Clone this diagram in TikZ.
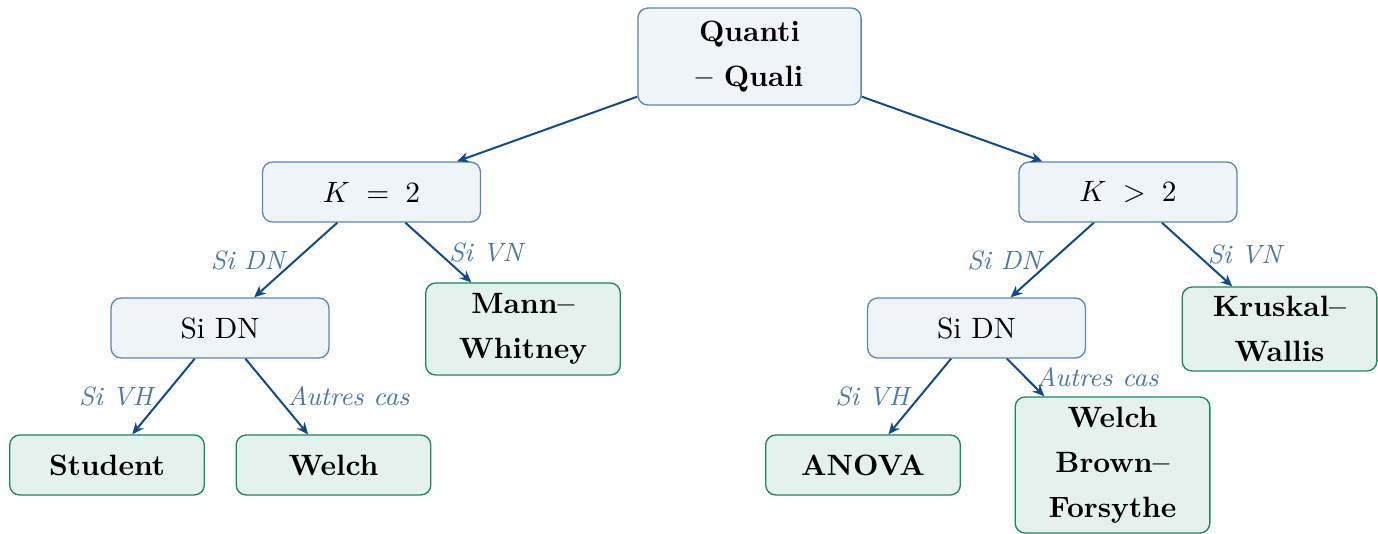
\documentclass[tikz,border=0pt]{standalone}
\usetikzlibrary{arrows.meta}
\definecolor{arrowblue}{RGB}{18,74,134}
\definecolor{labelblue}{RGB}{74,120,166}
\definecolor{boxfill}{RGB}{239,244,248}
\definecolor{boxdraw}{RGB}{92,134,180}
\definecolor{leaffill}{RGB}{228,241,236}
\definecolor{leafdraw}{RGB}{28,134,92}
\tikzset{
  box/.style={draw=boxdraw, fill=boxfill, rounded corners=3.4pt, line width=0.45pt,
    align=center, inner sep=0pt, minimum width=74.1pt, minimum height=20.4pt,
    font=\linespread{1.275}\selectfont},
  leaf/.style={draw=leafdraw, fill=leaffill, rounded corners=3.4pt, line width=0.45pt,
    align=center, inner sep=0pt, minimum width=66.2pt, minimum height=20.4pt,
    font=\linespread{1.275}\selectfont\bfseries},
  link/.style={draw=arrowblue, line width=0.68pt, -{Stealth[length=4pt,width=3.5pt]}},
  cond/.style={font=\small\itshape, text=labelblue, midway}
}
\begin{document}
\begin{tikzpicture}[x=0.3401pt, y=-0.3401pt]
\useasboundingbox (0,0) rectangle (1378,533);

% decision tree
\node[box, minimum width=75.9pt, minimum height=33pt, font=\linespread{1.275}\selectfont\bfseries] (root) at (749.5,56.5) {Quanti\\ -- Quali};

\node[box] (k2) at (371.5,192) {$K \;=\; 2$};
\node[box] (kg) at (1128,192) {$K \;>\; 2$};

\node[box] (dnl) at (220,328) {Si DN};
\node[leaf, minimum height=31.3pt] (mw) at (523,329) {Mann--\\Whitney};
\node[box] (dnr) at (976.5,328) {Si DN};
\node[leaf, minimum height=28.6pt] (kw) at (1279.5,329) {Kruskal--\\Wallis};

\node[leaf] (stu) at (107,465) {Student};
\node[leaf] (wel) at (333.5,465) {Welch};
\node[leaf] (ano) at (863,465) {ANOVA};
\node[leaf, minimum height=46.3pt] (wbf) at (1112.5,465) {Welch\\Brown--\\Forsythe};

% connectors
\draw[link] (root) -- (k2);
\draw[link] (root) -- (kg);

\draw[link] (k2) -- node[cond, left] {Si DN} (dnl);
\draw[link] (k2) -- node[cond, right] {Si VN} (mw);
\draw[link] (kg) -- node[cond, left] {Si DN} (dnr);
\draw[link] (kg) -- node[cond, right] {Si VN} (kw);

\draw[link] (dnl) -- node[cond, left] {Si VH} (stu);
\draw[link] (dnl) -- node[cond, right] {Autres cas} (wel);
\draw[link] (dnr) -- node[cond, left] {Si VH} (ano);
\draw[link] (dnr) -- node[cond, right] {Autres cas} (wbf);
\end{tikzpicture}
\end{document}
